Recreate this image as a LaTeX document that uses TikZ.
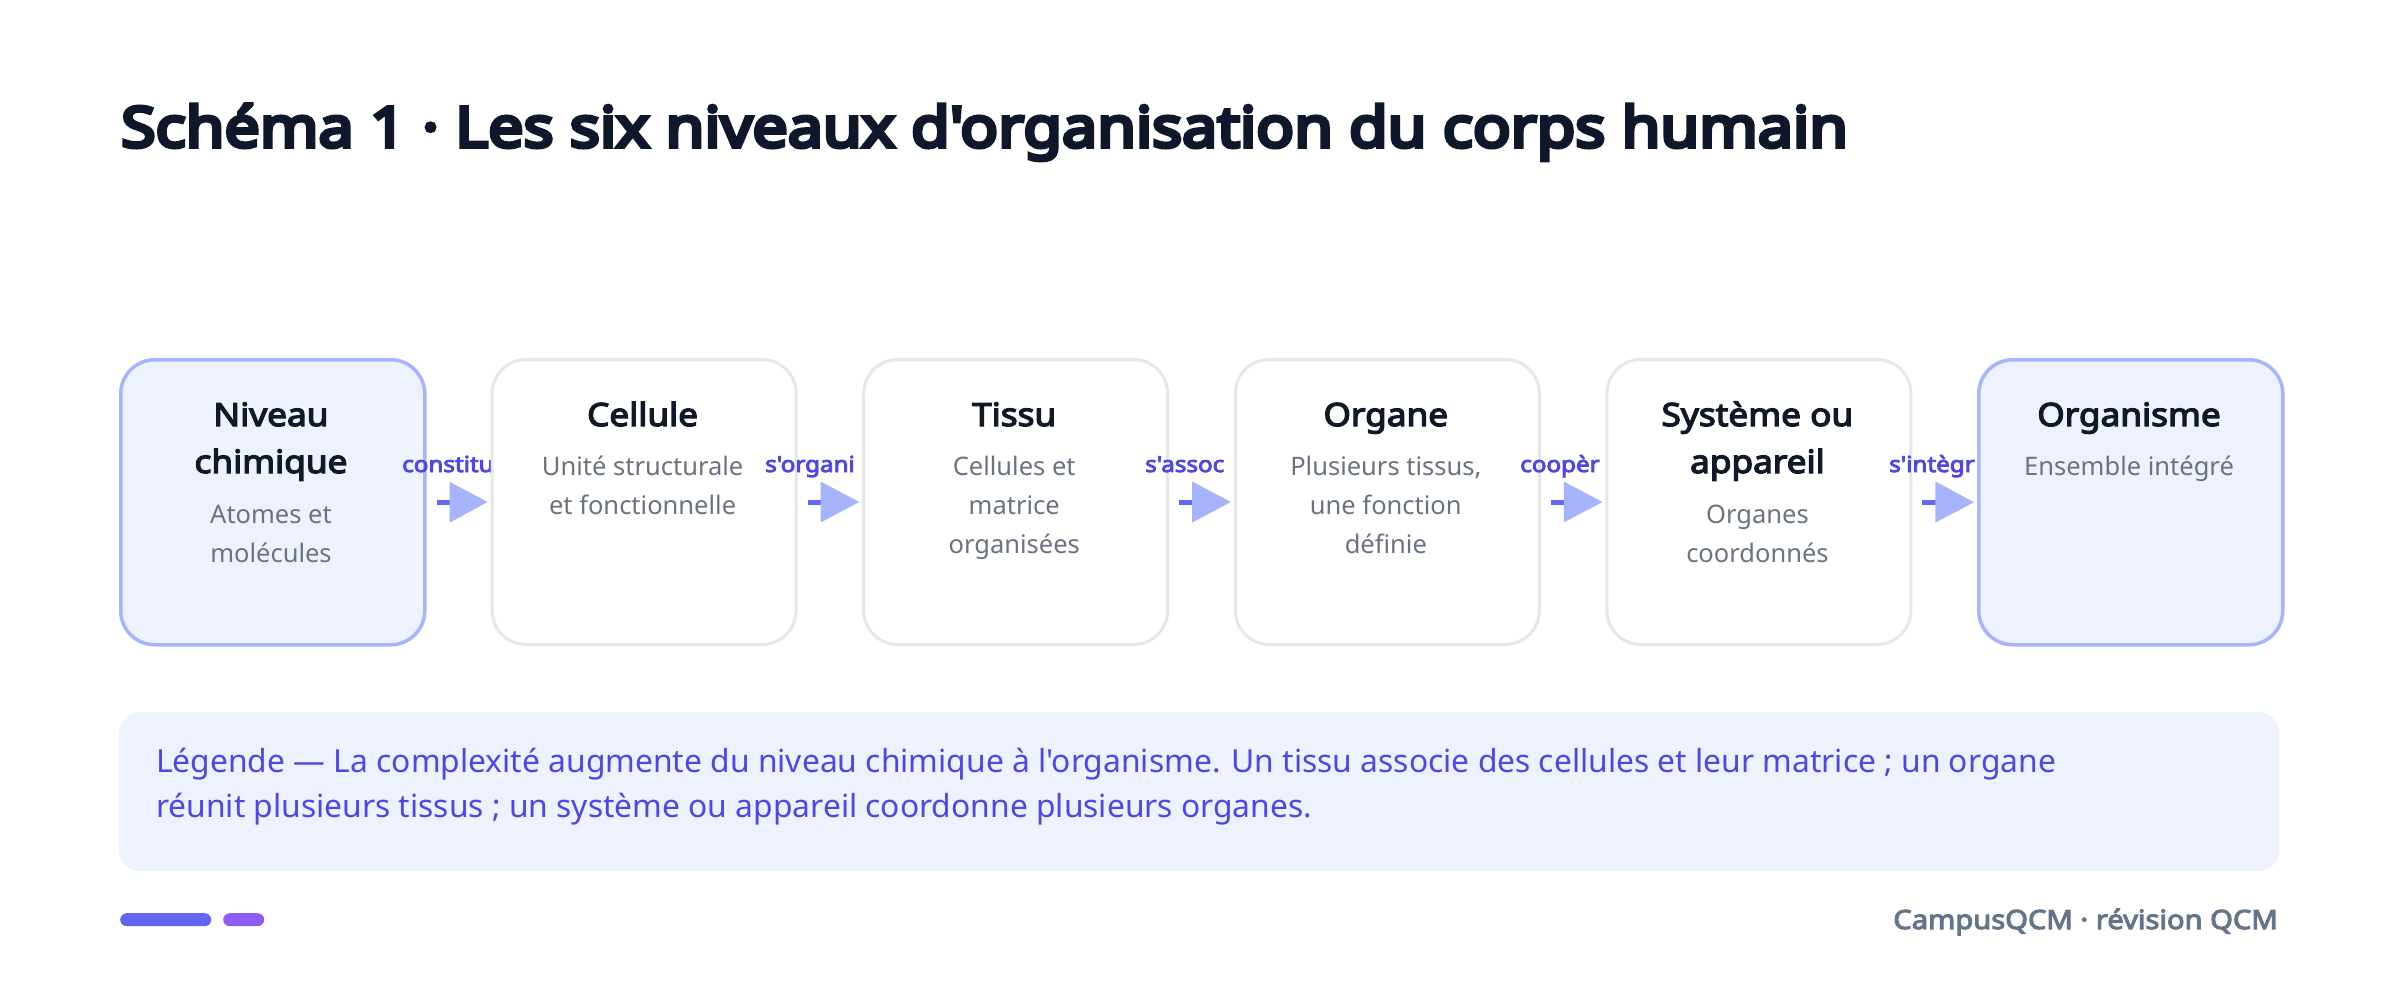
\documentclass[tikz,border=0pt]{standalone}
\usepackage{fontspec}
\setmainfont{Noto Sans}[Ligatures=TeXOff, BoldFont={Noto Sans}, BoldFeatures={FakeBold=4, FakeStretch=1.1}]
\newfontfamily\heavy{Noto Sans}[Ligatures=TeXOff, FakeBold=7, FakeStretch=1.12]
\definecolor{titlec}{HTML}{0F172A}
\definecolor{darkc}{HTML}{111827}
\definecolor{descc}{HTML}{6B7280}
\definecolor{labc}{HTML}{4F46E5}
\definecolor{grayb}{HTML}{E5E7EB}
\definecolor{hlb}{HTML}{A5B4FC}
\definecolor{hlf}{HTML}{EEF2FF}
\definecolor{stubc}{HTML}{6366F1}
\definecolor{headc}{HTML}{A5B4FC}
\definecolor{pillb}{HTML}{8B5CF6}
\definecolor{footc}{HTML}{64748B}
\tikzset{
  card/.style={draw=grayb, line width=3pt, fill=white, rounded corners=34pt,
    minimum width=304pt, minimum height=285pt, inner sep=0pt, anchor=north west},
  hlcard/.style={card, draw=hlb, line width=3.5pt, fill=hlf},
  ttl/.style={anchor=base, inner sep=0pt, text=darkc, font=\bfseries\fontsize{32}{38}\selectfont},
  dsc/.style={anchor=base, inner sep=0pt, text=descc, font=\fontsize{25.5}{30}\selectfont},
  lab/.style={anchor=base west, inner sep=0pt, text=labc, font=\bfseries\fontsize{22}{26}\selectfont},
  stub/.style={draw=stubc, line width=5pt},
  head/.style={fill=headc, draw=none},
  legtxt/.style={anchor=base west, inner sep=0pt, text=labc, font=\fontsize{31.8}{38}\selectfont},
  pill/.style={inner sep=0pt, minimum height=13pt, rounded corners=6.5pt, anchor=north west}
}
\begin{document}
\begin{tikzpicture}[x=1pt,y=-1pt]
\useasboundingbox[fill=white] (0,0) rectangle (2400,981);
% title
\node[anchor=base west, inner sep=0pt, text=titlec, font=\heavy\fontsize{56}{64}\selectfont] (title) at (121,147) {Schéma 1 · Les six niveaux d'organisation du corps humain};
% box 1
\node[hlcard] (b1) at (119,358) {};
\node[ttl] (t1a) at (271,426) {Niveau};
\node[ttl] (t1b) at (271,473) {chimique};
\node[dsc] (d1a) at (271,523) {Atomes et};
\node[dsc] (d1b) at (271,562) {molécules};
\node[lab] (l1) at (402,472) {constitu};
\draw[stub] ([xshift=10pt]b1.east) -- ([xshift=24pt]b1.east);
% box 2
\node[card] (b2) at (490.6,358) {};
\fill[head] ([xshift=23pt,yshift=20.5pt]b1.east) -- ([xshift=-3pt]b2.west) -- ([xshift=23pt,yshift=-20.5pt]b1.east) -- cycle;
\node[ttl] (t2a) at (642.6,426) {Cellule};
\node[dsc] (d2a) at (642.6,475) {Unité structurale};
\node[dsc] (d2b) at (642.6,514) {et fonctionnelle};
\node[lab] (l2) at (765,472) {s'organi};
\draw[stub] ([xshift=10pt]b2.east) -- ([xshift=24pt]b2.east);
% box 3
\node[card] (b3) at (862.2,358) {};
\fill[head] ([xshift=23pt,yshift=20.5pt]b2.east) -- ([xshift=-3pt]b3.west) -- ([xshift=23pt,yshift=-20.5pt]b2.east) -- cycle;
\node[ttl] (t3a) at (1014.2,426) {Tissu};
\node[dsc] (d3a) at (1014.2,475) {Cellules et};
\node[dsc] (d3b) at (1014.2,514) {matrice};
\node[dsc] (d3c) at (1014.2,553) {organisées};
\node[lab] (l3) at (1145,472) {s'assoc};
\draw[stub] ([xshift=10pt]b3.east) -- ([xshift=24pt]b3.east);
% box 4
\node[card] (b4) at (1233.8,358) {};
\fill[head] ([xshift=23pt,yshift=20.5pt]b3.east) -- ([xshift=-3pt]b4.west) -- ([xshift=23pt,yshift=-20.5pt]b3.east) -- cycle;
\node[ttl] (t4a) at (1385.8,426) {Organe};
\node[dsc] (d4a) at (1385.8,475) {Plusieurs tissus,};
\node[dsc] (d4b) at (1385.8,514) {une fonction};
\node[dsc] (d4c) at (1385.8,553) {définie};
\node[lab] (l4) at (1520,472) {coopèr};
\draw[stub] ([xshift=10pt]b4.east) -- ([xshift=24pt]b4.east);
% box 5
\node[card] (b5) at (1605.4,358) {};
\fill[head] ([xshift=23pt,yshift=20.5pt]b4.east) -- ([xshift=-3pt]b5.west) -- ([xshift=23pt,yshift=-20.5pt]b4.east) -- cycle;
\node[ttl] (t5a) at (1757.4,426) {Système ou};
\node[ttl] (t5b) at (1757.4,473) {appareil};
\node[dsc] (d5a) at (1757.4,523) {Organes};
\node[dsc] (d5b) at (1757.4,562) {coordonnés};
\node[lab] (l5) at (1889,472) {s'intègr};
\draw[stub] ([xshift=10pt]b5.east) -- ([xshift=24pt]b5.east);
% box 6
\node[hlcard] (b6) at (1977,358) {};
\fill[head] ([xshift=23pt,yshift=20.5pt]b5.east) -- ([xshift=-3pt]b6.west) -- ([xshift=23pt,yshift=-20.5pt]b5.east) -- cycle;
\node[ttl] (t6a) at (2129,426) {Organisme};
\node[dsc] (d6a) at (2129,475) {Ensemble intégré};
% legend
\node[fill=hlf, rounded corners=21pt, minimum width=2160pt, minimum height=159pt, inner sep=0pt, anchor=north west] (leg) at (119,712) {};
\node[legtxt] (lg1) at (156,772) {Légende — La complexité augmente du niveau chimique à l'organisme. Un tissu associe des cellules et leur matrice ; un organe};
\node[legtxt] (lg2) at (156,817) {réunit plusieurs tissus ; un système ou appareil coordonne plusieurs organes.};
% footer
\node[pill, fill=stubc, minimum width=91pt] (p1) at (120,913) {};
\node[pill, fill=pillb, minimum width=41pt] (p2) at (223,913) {};
\node[anchor=base east, inner sep=0pt, text=footc, font=\bfseries\fontsize{26.5}{30}\selectfont] (foot) at (2278,929) {CampusQCM · révision QCM};
\end{tikzpicture}
\end{document}
